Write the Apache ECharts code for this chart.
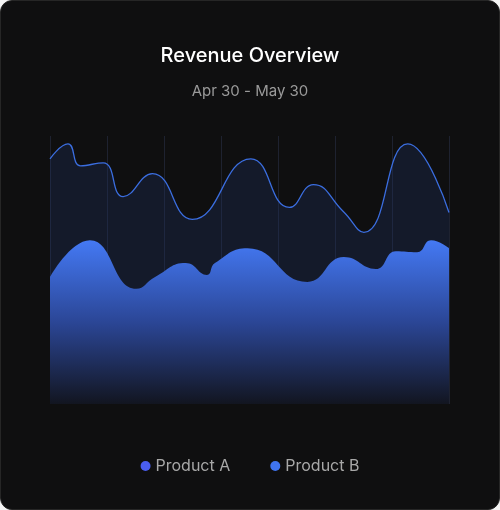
<!DOCTYPE html>
<html><head><meta charset="utf-8">
<script src="https://cdn.jsdelivr.net/npm/echarts@6/dist/echarts.min.js"></script>
<style>html,body{margin:0;padding:0;background:#f4f4f4;}#c{width:500px;height:510px;background:#0f0f10;border-radius:12px;border:1px solid #262626;box-sizing:border-box;overflow:hidden;}</style>
</head><body><div id="c"></div>
<script>
const dayTicks = [0, 30];
const productADays = [0, 1.35, 2.3, 4, 5.5, 7.7, 10.7, 15.1, 18, 19.8, 22.05, 23.6, 26.9, 30];
const productAValues = [247, 262, 240, 243, 209, 232, 186, 247, 198, 221, 194, 173, 262, 193];
const productBDays = [0, 3, 6.5, 7.9, 10.2, 11.8, 12.4, 14.85, 19.35, 22.1, 24.5, 26, 27.6, 28.65, 30];
const productBValues = [128, 165, 116, 128, 142, 130, 142, 157, 123, 148, 136, 154, 153, 165, 157];
const legendNames = ['Product A', 'Product B'];

const chart = echarts.init(document.getElementById('c'));
chart.setOption({
  backgroundColor: 'transparent',
  title: {text: 'Revenue Overview', subtext: 'Apr 30 - May 30', left: 'center', top: 40, itemGap: 18,
    textStyle: {color: '#ffffff', fontSize: 20, fontWeight: 500, fontFamily: 'Inter'},
    subtextStyle: {color: '#9a9a9a', fontSize: 15, fontFamily: 'Inter'}},
  legend: {data: legendNames, bottom: 30, icon: 'circle', itemWidth: 10, itemHeight: 10, itemGap: 40,
    textStyle: {color: '#a8a8a8', fontSize: 16, fontFamily: 'Inter'}},
  grid: {left: 49, right: 50, top: 135, bottom: 105},
  xAxis: {type: 'value', min: dayTicks[0], max: dayTicks[1], interval: 30/7,
    axisLine: {show: false}, axisTick: {show: false}, axisLabel: {show: false},
    splitLine: {show: true, lineStyle: {color: '#1e2230', width: 1}}},
  yAxis: {type: 'value', min: 0, max: 270, show: false, splitLine: {show: false}},
  series: [
    {name: legendNames[0], type: 'line', smooth: 0.5, symbol: 'none',
      data: productADays.map((d, i) => [d, productAValues[i]]),
      itemStyle: {color: '#4a5ef0'},
      lineStyle: {color: '#3b6ee0', width: 1.3},
      areaStyle: {color: 'rgba(30,50,100,0.45)'}},
    {name: legendNames[1], type: 'line', smooth: 0.5, symbol: 'none',
      data: productBDays.map((d, i) => [d, productBValues[i]]),
      itemStyle: {color: '#3f74f0'},
      lineStyle: {width: 0},
      areaStyle: {opacity: 1, color: new echarts.graphic.LinearGradient(0, 0, 0, 1, [
        {offset: 0, color: '#4479f4'}, {offset: 0.5, color: '#2b4696'}, {offset: 1, color: '#121520'}])}}
  ]
});
</script></body></html>
